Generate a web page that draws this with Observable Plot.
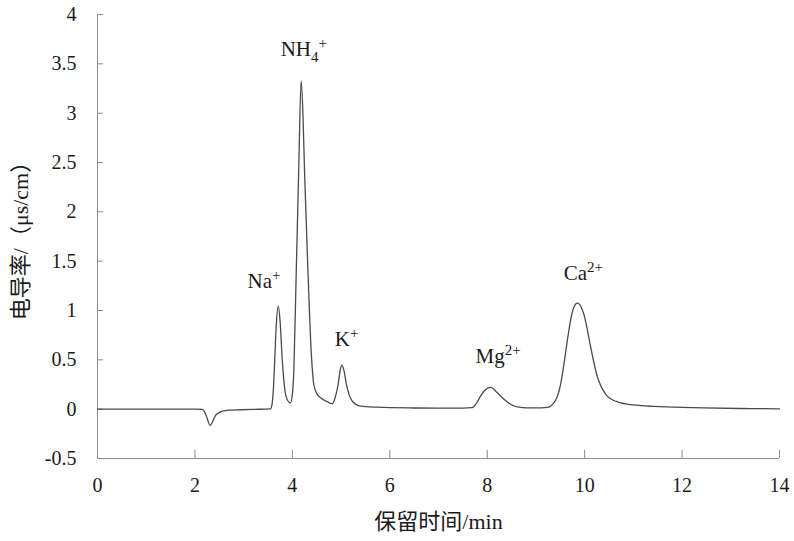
<!DOCTYPE html>
<html><head><meta charset="utf-8">
<script src="https://cdn.jsdelivr.net/npm/d3@7"></script>
<script src="https://cdn.jsdelivr.net/npm/@observablehq/plot@0.6"></script>
<style>
body{margin:0;background:#fff}
svg{display:block}
svg text, svg tspan { font-family: "Liberation Serif", "DejaVu Serif", "Noto Sans CJK SC", serif !important; }
</style>
</head><body><div id="chart"></div>
<script>
// Retention time (min)
const times = [0, 2.0, 2.15, 2.2, 2.25, 2.31, 2.37, 2.42, 2.5, 2.56, 2.7, 2.94, 3.2, 3.55,
  3.58, 3.61, 3.64, 3.67, 3.71, 3.75, 3.79, 3.84, 3.9, 3.96,
  4.0, 4.03, 4.08, 4.13, 4.18, 4.22, 4.25, 4.32, 4.39, 4.44, 4.5, 4.58, 4.7, 4.82,
  4.88, 4.94, 4.98, 5.02, 5.06, 5.11, 5.17, 5.23, 5.3, 5.4, 5.74, 6.5, 7.0, 7.5,
  7.69, 7.78, 7.86, 7.97, 8.07, 8.18, 8.31, 8.42, 8.52, 8.65, 8.82, 9.1, 9.27,
  9.34, 9.44, 9.51, 9.57, 9.64, 9.7, 9.75, 9.8, 9.85, 9.9, 9.95, 9.99, 10.05, 10.12, 10.2,
  10.26, 10.33, 10.4, 10.47, 10.55, 10.65, 10.74, 10.88, 11.15, 11.42, 12.0, 12.44, 13.2, 14.0];
// Conductivity (μs/cm)
const signal = [0, 0, -0.002, -0.03, -0.09, -0.165, -0.12, -0.065, -0.035, -0.02, -0.01, -0.006, -0.002, 0.003,
  0.04, 0.2, 0.52, 0.85, 1.045, 0.88, 0.52, 0.22, 0.09, 0.064,
  0.15, 0.385, 1.40, 2.41, 3.33, 2.95, 2.41, 1.40, 0.555, 0.25, 0.16, 0.115, 0.08, 0.054,
  0.12, 0.25, 0.39, 0.446, 0.39, 0.25, 0.14, 0.081, 0.05, 0.03, 0.02, 0.012, 0.01, 0.01,
  0.015, 0.06, 0.13, 0.2, 0.22, 0.18, 0.115, 0.07, 0.04, 0.02, 0.013, 0.013, 0.02,
  0.048, 0.13, 0.26, 0.44, 0.68, 0.87, 0.99, 1.055, 1.075, 1.06, 1.01, 0.95, 0.82, 0.64, 0.45,
  0.33, 0.24, 0.175, 0.13, 0.1, 0.078, 0.064, 0.05, 0.035, 0.028, 0.018, 0.013, 0.007, 0.003];

const xTicks = [0, 2, 4, 6, 8, 10, 12, 14];
const yTicks = [-0.5, 0, 0.5, 1, 1.5, 2, 2.5, 3, 3.5, 4];

// Peak labels
const peakNames = ["Na", "NH", "K", "Mg", "Ca"];
const peakSub = ["", "4", "", "", ""];
const peakSup = ["+", "+", "+", "2+", "2+"];
const peakX = [3.08, 3.76, 4.87, 7.76, 9.57];
const peakY = [1.30, 3.65, 0.71, 0.54, 1.38];

const xTitle = "保留时间/min";
const yTitle = "电导率/（μs/cm）";

const series = times.map((t, i) => ({t, v: signal[i]}));
const peaks = peakNames.map((n, i) => ({n, x: peakX[i], y: peakY[i]}));

const serif = "Liberation Serif, DejaVu Serif, Noto Sans CJK SC, serif";

const chart = Plot.plot({
  width: 794, height: 541,
  marginLeft: 97, marginRight: 15, marginTop: 14, marginBottom: 83,
  x: {domain: [0, 14]},
  y: {domain: [-0.5, 4]},
  style: {fontFamily: serif, fontSize: "20px", color: "#1a1a1a", background: "#fff"},
  marks: [
    Plot.ruleX([0], {stroke: "#8a8a8a", strokeWidth: 1}),
    Plot.ruleY([-0.5], {stroke: "#8a8a8a", strokeWidth: 1}),
    Plot.axisX(xTicks, {tickSize: -8, tickPadding: 27, label: null, stroke: "#8a8a8a", fill: "#1a1a1a", tickFormat: d => String(d)}),
    Plot.axisY(yTicks, {tickSize: -6, tickPadding: 27, label: null, stroke: "#8a8a8a", fill: "#1a1a1a", tickFormat: d => String(d)}),
    Plot.line(series, {x: "t", y: "v", stroke: "#4a4a4a", strokeWidth: 1.3, curve: "monotone-x"}),
    Plot.text(peaks, {x: "x", y: "y", text: "n", textAnchor: "start", fontSize: 21, fill: "#1a1a1a"}),
    Plot.text([xTitle], {frameAnchor: "bottom", dy: 70, fontSize: 22, fill: "#1a1a1a"}),
    Plot.text([yTitle], {frameAnchor: "left", textAnchor: "middle", dx: -77, dy: -1, rotate: -90, fontSize: 22, fill: "#1a1a1a"})
  ]
});

// superscripts / subscripts for ion labels
chart.querySelectorAll("text").forEach(el => {
  const i = peakNames.indexOf(el.textContent);
  if (i < 0) return;
  let shift = 0;
  if (peakSub[i]) {
    const s = document.createElementNS("http://www.w3.org/2000/svg", "tspan");
    s.setAttribute("font-size", "15");
    s.setAttribute("dy", "6");
    s.textContent = peakSub[i];
    el.appendChild(s);
    shift = 6;
  }
  if (peakSup[i]) {
    const s = document.createElementNS("http://www.w3.org/2000/svg", "tspan");
    s.setAttribute("font-size", "15");
    s.setAttribute("dy", String(-8 - shift));
    s.textContent = peakSup[i];
    el.appendChild(s);
  }
});

document.getElementById("chart").appendChild(chart);
</script>
</body></html>
